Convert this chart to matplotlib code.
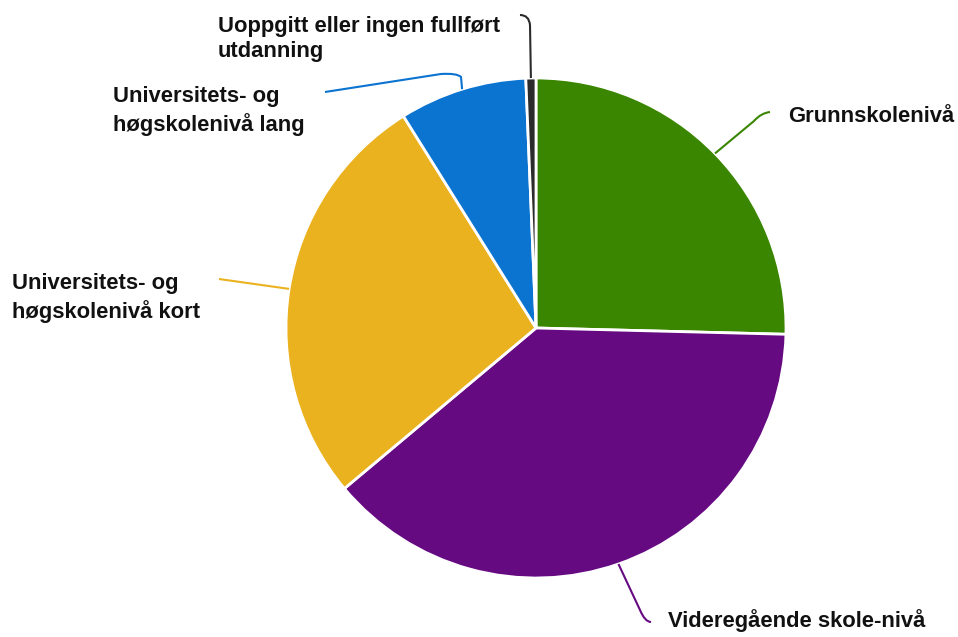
import numpy as np
import matplotlib
matplotlib.use("Agg")
import matplotlib.pyplot as plt
from matplotlib.path import Path
from matplotlib.patches import PathPatch

# Andel etter utdanningsnivå (prosent, lest av figuren)
labels = ["Grunnskolenivå",
          "Videregående skole-nivå",
          "Universitets- og\nhøgskolenivå kort",
          "Universitets- og\nhøgskolenivå lang",
          "Uoppgitt eller ingen fullført\nutdanning"]
values = [25.4, 38.5, 27.2, 8.25, 0.65]
colors = ["#3b8600", "#660a82", "#ebb220", "#0b73d0", "#2b2b2b"]

plt.rcParams['font.family'] = ['Liberation Sans', 'DejaVu Sans']

fig = plt.figure(figsize=(9.58, 6.37), dpi=100)
ax = fig.add_axes([0, 0, 1, 1])

cx, cy, r = 536, 328, 250
# y-aksen er snudd (pikselkoordinater), så counterclock=True går med klokka på skjermen
ax.pie(values, colors=colors, startangle=-90, counterclock=True,
       center=(cx, cy), radius=r,
       wedgeprops=dict(edgecolor="white", linewidth=2))
ax.set_xlim(0, 958)
ax.set_ylim(637, 0)
ax.set_aspect("equal")
ax.axis("off")

# midtvinkel for hver sektor, med klokka fra toppen
frac = np.array(values) / sum(values)
mid = (np.cumsum(frac) - frac / 2) * 2 * np.pi

# knekkpunkter for etikettlinjene (etter startpunktet på kanten)
leaders = [
    [(754, 121), (761, 113), (770, 112)],
    [(640, 610), (645, 622), (651, 622)],
    [(219, 279)],
    [(461, 77), (457, 73), (441, 74), (325, 92)],
    [(530, 25), (529, 15), (520, 15)],
]
codes_for = [
    [Path.LINETO, Path.CURVE3, Path.CURVE3],
    [Path.LINETO, Path.CURVE3, Path.CURVE3],
    [Path.LINETO],
    [Path.LINETO, Path.CURVE3, Path.CURVE3, Path.LINETO],
    [Path.LINETO, Path.CURVE3, Path.CURVE3],
]
text_pos = [(788, 116), (668, 621), (12, 298), (113, 111), (218, 39)]

for i in range(len(values)):
    sx = cx + r * np.sin(mid[i])
    sy = cy - r * np.cos(mid[i])
    verts = [(sx, sy)] + leaders[i]
    codes = [Path.MOVETO] + codes_for[i]
    ax.add_patch(PathPatch(Path(verts, codes), facecolor="none",
                           edgecolor=colors[i], linewidth=1.5))
    tx, ty = text_pos[i]
    ax.text(tx, ty, labels[i], ha="left", va="center", fontsize=15.8,
            fontweight="bold", color="#111111", linespacing=1.28)

fig.savefig("out.png", dpi=100)
